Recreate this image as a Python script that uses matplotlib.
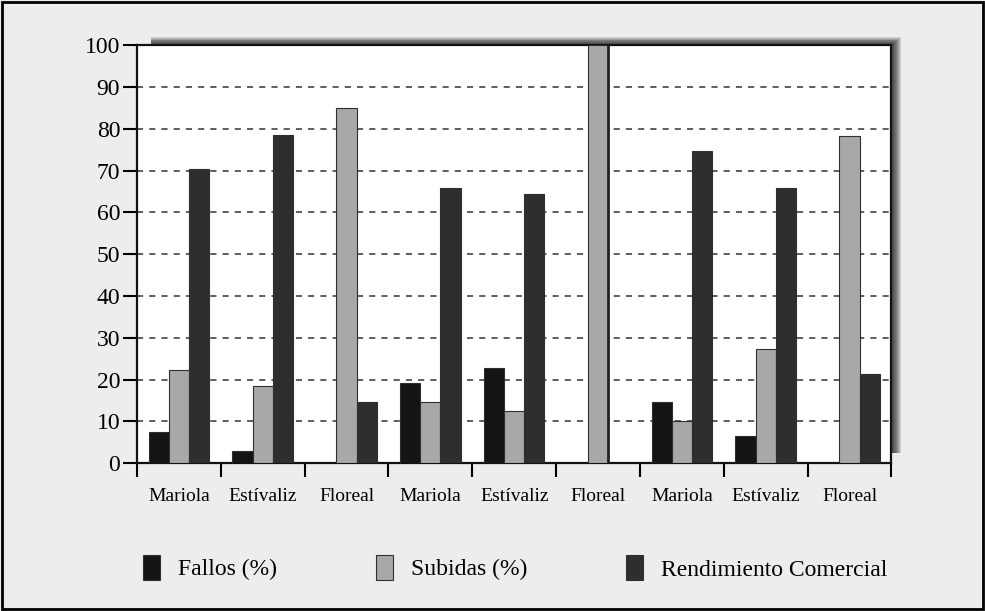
import numpy as np
import matplotlib
matplotlib.use("Agg")
import matplotlib.pyplot as plt
from matplotlib.patches import Rectangle

# data
categories = ["Mariola", "Estívaliz", "Floreal",
              "Mariola", "Estívaliz", "Floreal",
              "Mariola", "Estívaliz", "Floreal"]
fallos = [7.4, 2.9, 0, 19.1, 22.7, 0, 14.6, 6.5, 0]
subidas = [22.2, 18.4, 85.0, 14.6, 12.5, 100, 10.2, 27.2, 78.3]
rendimiento = [70.4, 78.5, 14.6, 65.8, 64.3, 0, 74.6, 65.8, 21.3]
series_names = ["Fallos (%)", "Subidas (%)", "Rendimiento Comercial"]
y_ticks = [0, 10, 20, 30, 40, 50, 60, 70, 80, 90, 100]

plt.rcParams['font.family'] = ['Liberation Serif', 'DejaVu Serif']

W, H = 985.0, 611.0
fig = plt.figure(figsize=(9.85, 6.11), dpi=100)
fig.patch.set_facecolor('#ededed')
ax = fig.add_axes([0.139, 0.242, 0.766, 0.684])
ax.set_zorder(2)

# soft drop shadow behind the plot area (top and right edges)
bb = ax.get_position()
for d in range(10, 0, -1):
    left = bb.x0 + 14 / W
    bottom = bb.y0 + 10 / H
    right = bb.x1 + d / W
    top = bb.y1 + d * 0.8 / H
    fig.patches.append(Rectangle((left, bottom), right - left, top - bottom,
                                 transform=fig.transFigure, facecolor='#1a1a1a',
                                 alpha=0.14, edgecolor='none', zorder=0))

x = np.arange(len(categories))
w = 0.24
colors = ['#141414', '#a8a8a8', '#2e2e2e']
for k, vals in enumerate([fallos, subidas, rendimiento]):
    ax.bar(x + (k - 1) * w, vals, w, color=colors[k], edgecolor='#303030',
           linewidth=0.8, label=series_names[k], zorder=3)

# separator line at right edge of the tall bar
ax.axvline(x[5] + 0.5 * w, color='#222222', linewidth=2, zorder=4)

ax.set_xlim(-0.5, len(categories) - 0.5)
ax.set_ylim(0, 100)
ax.set_yticks(y_ticks)
ax.tick_params(axis='y', labelsize=17, length=10, width=1.5, pad=2)
for yt in y_ticks[1:-1]:
    ax.axhline(yt, color='#333333', linestyle=(0, (4, 4)), linewidth=1.1, zorder=1)

ax.set_xticks(np.arange(len(categories) + 1) - 0.5)
ax.set_xticklabels([])
ax.tick_params(axis='x', which='major', length=10, width=1.5)
ax.set_xticks(x, minor=True)
ax.set_xticklabels(categories, minor=True, fontsize=14)
ax.tick_params(axis='x', which='minor', length=0, pad=18)

for s in ax.spines.values():
    s.set_linewidth(1.6)
    s.set_color('#111111')

fig.legend(loc='center', bbox_to_anchor=(0.523, 0.071), ncol=3, frameon=False,
           fontsize=17, handlelength=0.72, handleheight=1.3, columnspacing=4.2,
           handletextpad=0.76)

fig.patches.append(Rectangle((0.002, 0.003), 0.996, 0.994, transform=fig.transFigure,
                             facecolor='none', edgecolor='black', linewidth=2))

fig.savefig('out.png', dpi=100, facecolor=fig.get_facecolor())
